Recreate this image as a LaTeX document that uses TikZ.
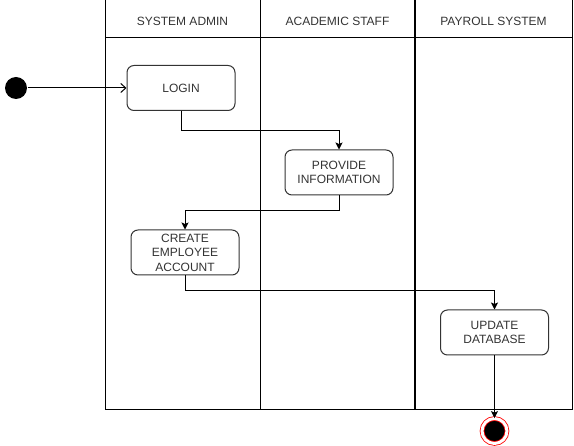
\documentclass[tikz,border=0pt]{standalone}
\usepackage{fontspec}
\setmainfont{Liberation Sans}
\usetikzlibrary{arrows.meta,positioning}

\begin{document}
\begin{tikzpicture}[x=1pt,y=-1pt,line width=1pt,
                    >={Stealth[length=7pt,width=7pt,inset=1.5pt]},
                    font=\fontsize{12}{14.5}\selectfont,
                    head/.style={draw,minimum height=38pt,inner sep=0pt,text=black!80,
                                 text height=12.6pt,text depth=0pt},
                    lane/.style={draw,minimum height=372pt,inner sep=0pt},
                    act/.style={draw=black!80,rounded corners=7pt,minimum width=108pt,
                                minimum height=45pt,align=center,inner sep=0pt,text=black!80},
                    init/.style={circle,fill=black,minimum size=22pt,inner sep=0pt},
                    final/.style={circle,fill=black,draw=red,line width=0.8pt,double=white,
                                  double distance=3pt,minimum size=25pt,inner sep=0pt}]

  \useasboundingbox (0,0) rectangle (574,446);

  % swimlanes
  \node[head,minimum width=155pt] (h1) at (182.5,19)  {SYSTEM ADMIN};
  \node[head,minimum width=155pt] (h2) at (337.5,19)  {ACADEMIC STAFF};
  \node[head,minimum width=157pt] (h3) at (493.5,19)  {PAYROLL SYSTEM};
  \node[lane,minimum width=155pt] (l1) at (182.5,224) {};
  \node[lane,minimum width=155pt] (l2) at (337.5,224) {};
  \node[lane,minimum width=157pt] (l3) at (493.5,224) {};
  \draw[line width=2pt] (h3.north west) -- (l3.south west);

  % states
  \node[init]  (start)   at (16,88)    {};
  \node[act]   (login)   at (181,88)   {LOGIN};
  \node[act]   (provide) at (339,172.5) {PROVIDE\\INFORMATION};
  \node[act]   (create)  at (185,252.5) {CREATE\\EMPLOYEE\\ACCOUNT};
  \node[act]   (update)  at (494.5,332.5) {UPDATE\\DATABASE};
  \node[final] (stop)    at (494.5,431) {};

  % flows
  \draw[-{Straight Barb[length=5pt,width=9pt]}] (start) -- (login);
  \draw[->] (login.south) -- ++(0,20) -| (provide.north);
  \draw[->] (provide.south) -- ++(0,15) -| (create.north);
  \draw[->] (create.south) -- ++(0,15) -| (update.north);
  \draw[->] (update.south) -- (stop.north);

\end{tikzpicture}
\end{document}
